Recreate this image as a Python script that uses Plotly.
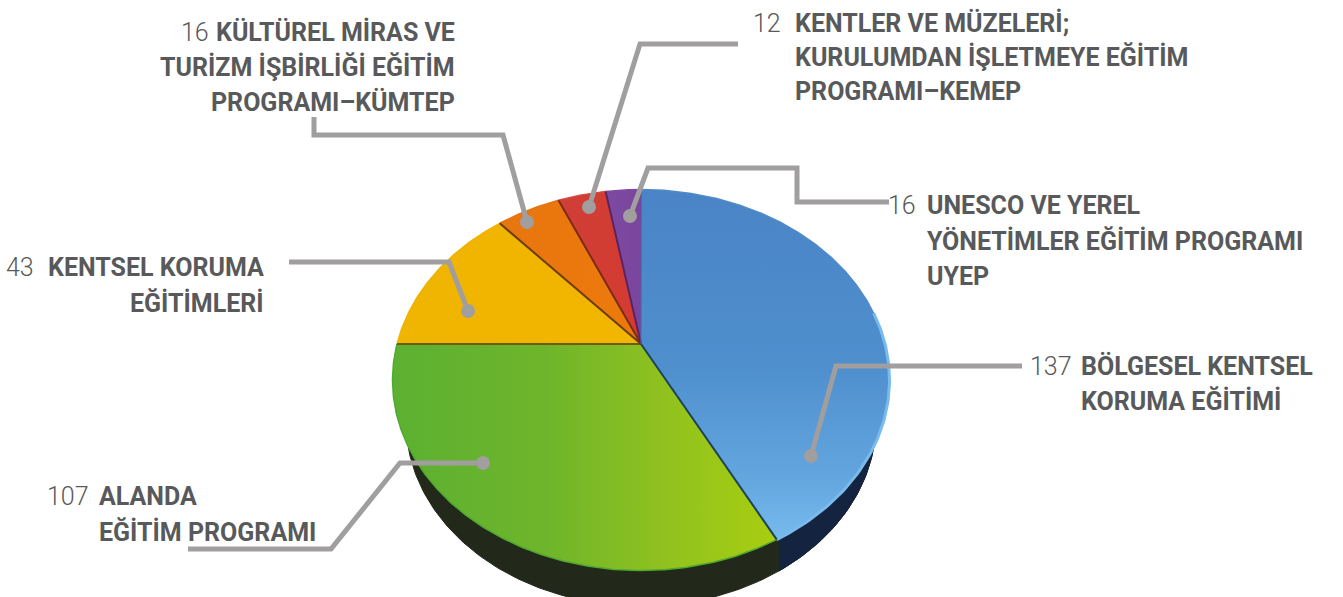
import numpy as np
import plotly.graph_objects as go

# ---- data ----
programmes = ["BÖLGESEL KENTSEL KORUMA EĞİTİMİ", "ALANDA EĞİTİM PROGRAMI", "KENTSEL KORUMA EĞİTİMLERİ",
              "KÜLTÜREL MİRAS VE TURİZM İŞBİRLİĞİ EĞİTİM PROGRAMI–KÜMTEP",
              "KENTLER VE MÜZELERİ; KURULUMDAN İŞLETMEYE EĞİTİM PROGRAMI–KEMEP",
              "UNESCO VE YEREL YÖNETİMLER EĞİTİM PROGRAMI UYEP"]
counts = [137, 107, 43, 16, 12, 16]
# angular size of each slice as actually drawn in the picture (degrees of the pie)
drawn_degrees = [152.4, 117.6, 48.6, 18.0, 13.5, 10.0]

# ---- styling / geometry ----
W, H = 1343, 597
APEX = (641.0, 344.0)
TOP = dict(cx=641.0, cy=380.0, rx=248.5, ry=190.5)
SIDE = dict(cx=641.0, cy=422.0, rx=235.0, ry=184.0)
PERSP_A, PERSP_B = 243.0, 183.0
GREY = "#a09e9e"
TEXT = "#58595b"
FONT = "Roboto"

fills = [
    dict(type="vertical", start=190, stop=545,
         colorscale=[[0, "#4a84c6"], [0.5, "#4f8fce"], [0.8, "#62a5de"], [1, "#78bcee"]]),
    dict(type="horizontal", start=393, stop=777,
         colorscale=[[0, "#5cb032"], [0.4, "#6fb52b"], [0.7, "#8fc11f"], [1, "#a9ce10"]]),
    dict(type="horizontal", start=400, stop=640, colorscale=[[0, "#f0b500"], [1, "#f2b500"]]),
    dict(type="horizontal", start=503, stop=640, colorscale=[[0, "#e87610"], [1, "#ec7a0a"]]),
    dict(type="horizontal", start=559, stop=640, colorscale=[[0, "#cf3f38"], [1, "#d53a30"]]),
    dict(type="horizontal", start=606, stop=640, colorscale=[[0, "#7d4ba3"], [1, "#7a459c"]]),
]
seams = ["#1d4358", "#6f5a10", "#6b3c08", "#7c2b12", "#5b2460", "#4a6aa6"]
rims = ["#4f8aca", "#4fa82f", "#efb400", "#e3740f", "#cf4a40", "#7d4ba3"]


def rim_point(theta):
    """Where the pie radius at angle theta (clockwise from top) meets the top ellipse."""
    dx, dy = PERSP_A * np.sin(theta), -PERSP_B * np.cos(theta)
    ox, oy = APEX[0] - TOP["cx"], APEX[1] - TOP["cy"]
    a = (dx / TOP["rx"]) ** 2 + (dy / TOP["ry"]) ** 2
    b = 2 * (ox * dx / TOP["rx"] ** 2 + oy * dy / TOP["ry"] ** 2)
    c = (ox / TOP["rx"]) ** 2 + (oy / TOP["ry"]) ** 2 - 1
    t = (-b + np.sqrt(b * b - 4 * a * c)) / (2 * a)
    return APEX[0] + t * dx, APEX[1] + t * dy


fig = go.Figure()

# side wall
phi = np.linspace(0, 2 * np.pi, 361)
sx = SIDE["cx"] + SIDE["rx"] * np.cos(phi)
sy = SIDE["cy"] + SIDE["ry"] * np.sin(phi)
fig.add_trace(go.Scatter(x=sx, y=sy, mode="lines", fill="toself", fillcolor="#22281a",
                         line=dict(color="#22281a", width=1), hoverinfo="skip"))
seam_x = rim_point(np.radians(drawn_degrees[0]))[0]
mask = sx >= seam_x
order = np.argsort(np.where(phi[mask] > np.pi, phi[mask] - 2 * np.pi, phi[mask]))
fig.add_trace(go.Scatter(x=sx[mask][order], y=sy[mask][order], mode="lines", fill="toself",
                         fillcolor="#14233f", line=dict(color="#14233f", width=1), hoverinfo="skip"))

# top slices
edges = np.radians(np.concatenate([[0], np.cumsum(drawn_degrees)]))
for i, name in enumerate(programmes):
    th = np.linspace(edges[i], edges[i + 1], max(int(drawn_degrees[i] * 2), 6))
    ax, ay = zip(*[rim_point(t) for t in th])
    px = np.concatenate([[APEX[0]], ax, [APEX[0]]])
    py = np.concatenate([[APEX[1]], ay, [APEX[1]]])
    fig.add_trace(go.Scatter(x=px, y=py, mode="lines", fill="toself", fillgradient=fills[i],
                             line=dict(width=0), name=name,
                             text=f"{name}: {counts[i]}", hoverinfo="text"))
    fig.add_trace(go.Scatter(x=ax, y=ay, mode="lines", line=dict(color=rims[i], width=1.5), hoverinfo="skip"))

# lighter bevel on the lower right of the largest slice
bevel = np.radians(np.linspace(80, drawn_degrees[0], 80))
bx, by = zip(*[rim_point(t) for t in bevel])
fig.add_trace(go.Scatter(x=bx, y=by, mode="lines", line=dict(color="#79bbec", width=3), hoverinfo="skip"))

for i in range(len(programmes)):
    ex, ey = rim_point(edges[i + 1])
    fig.add_trace(go.Scatter(x=[APEX[0], ex], y=[APEX[1], ey], mode="lines",
                             line=dict(color=seams[i], width=2 if i < 5 else 1), hoverinfo="skip"))

# leader lines
leaders = [
    ([(1022, 366), (836, 366), (811, 456)], (811, 456)),
    ([(188, 549), (331, 549), (400, 463), (483, 463)], (483, 463)),
    ([(289, 262), (449, 262), (468, 311)], (468, 311)),
    ([(314, 117), (314, 135), (503, 135), (527, 222)], (527, 222)),
    ([(738, 44), (640, 44), (589, 207)], (589, 207)),
    ([(889, 202), (797, 202), (797, 168), (648, 168), (630, 216)], (630, 216)),
]
shapes = []
for pts, dot in leaders:
    path = "M " + " L ".join(f"{x},{y}" for x, y in pts)
    shapes.append(dict(type="path", path=path, line=dict(color=GREY, width=5), layer="above"))
    shapes.append(dict(type="circle", x0=dot[0] - 7, x1=dot[0] + 7, y0=dot[1] - 7, y1=dot[1] + 7,
                       fillcolor=GREY, line=dict(width=0), layer="above"))

# labels: (count index, number right edge, number y, text lines [(text, x, y, anchor)])
labels = [
    (0, 1073, 366, [("BÖLGESEL KENTSEL", 1080, 366, "left"), ("KORUMA EĞİTİMİ", 1080, 401, "left")]),
    (1, 90, 496, [("ALANDA", 98, 496, "left"), ("EĞİTİM PROGRAMI", 98, 532, "left")]),
    (2, 35, 267, [("KENTSEL KORUMA", 265, 267, "right"), ("EĞİTİMLERİ", 265, 303, "right")]),
    (3, 210, 32, [("KÜLTÜREL MİRAS VE", 456, 32, "right"), ("TURİZM İŞBİRLİĞİ EĞİTİM", 456, 67, "right"),
                  ("PROGRAMI–KÜMTEP", 456, 102, "right")]),
    (4, 782, 23, [("KENTLER VE MÜZELERİ;", 794, 23, "left"), ("KURULUMDAN İŞLETMEYE EĞİTİM", 794, 57, "left"),
                  ("PROGRAMI–KEMEP", 794, 91, "left")]),
    (5, 917, 205, [("UNESCO VE YEREL", 926, 205, "left"), ("YÖNETİMLER EĞİTİM PROGRAMI", 926, 241, "left"),
                   ("UYEP", 926, 276, "left")]),
]
ann = []
for idx, nx, ny, lines in labels:
    ann.append(dict(x=nx, y=ny, text=str(counts[idx]), xanchor="right", yanchor="middle", showarrow=False,
                    borderpad=0, font=dict(family=FONT, size=25, color=TEXT, weight=300)))
    for t, x, y, anchor in lines:
        ann.append(dict(x=x, y=y, text=t, xanchor=anchor, yanchor="middle", showarrow=False,
                        borderpad=0, font=dict(family=FONT, size=25, color=TEXT, weight=700)))

fig.update_layout(
    width=W, height=H, margin=dict(l=0, r=0, t=0, b=0), showlegend=False,
    paper_bgcolor="white", plot_bgcolor="white",
    xaxis=dict(range=[0, W], visible=False, fixedrange=True),
    yaxis=dict(range=[H, 0], visible=False, fixedrange=True),
    shapes=shapes, annotations=ann,
)
fig.write_html("out.html", post_script="document.body.style.margin='0';", config=dict(displayModeBar=False))
